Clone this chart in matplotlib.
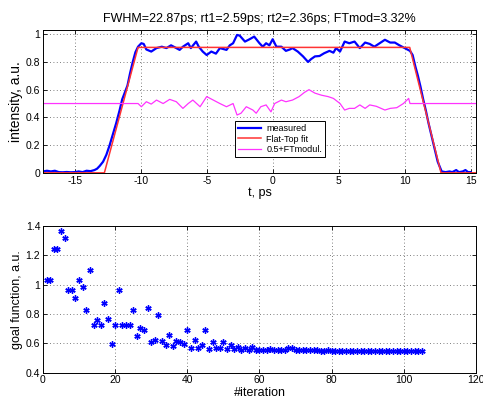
import matplotlib
matplotlib.use("Agg")
import matplotlib.pyplot as plt

plt.rcParams['font.family'] = ['Liberation Sans', 'DejaVu Sans']
plt.rcParams['axes.unicode_minus'] = False

# ---- top panel data ----
t_meas = [-17.4, -17.1, -16.8, -16.5, -16.2, -15.9, -15.6, -15.3, -15.0, -14.7, -14.4, -14.1,
          -13.8, -13.5, -13.3, -13.1, -12.85, -12.6, -12.35, -12.1, -11.85, -11.6, -11.4,
          -11.2, -11.0, -10.8, -10.6, -10.4, -10.2, -9.95, -9.77, -9.57, -9.2, -8.8, -8.4,
          -8.05, -7.7, -7.4, -7.05, -6.8, -6.4, -6.2, -5.8, -5.6, -5.3, -5.0, -4.65, -4.3,
          -4.0, -3.5, -3.25, -3.0, -2.7, -2.5, -2.1, -1.75, -1.4, -1.0, -0.75, -0.5, -0.25,
          0.0, 0.28, 0.66, 1.0, 1.3, 1.5, 1.9, 2.3, 2.68, 2.9, 3.2, 3.55, 3.9, 4.3, 4.6,
          4.8, 5.1, 5.45, 5.8, 6.2, 6.6, 7.0, 7.35, 7.7, 8.1, 8.5, 8.9, 9.25, 9.6, 10.0,
          10.4, 10.6, 10.8, 11.0, 11.2, 11.4, 11.6, 11.8, 12.0, 12.2, 12.5, 12.8, 13.1,
          13.4, 13.6, 13.9, 14.1, 14.4, 14.6, 14.8, 15.0]
i_meas = [0.01, 0.015, 0.01, 0.015, 0.005, 0.004, 0.006, 0.004, 0.005, 0.01, 0.005, 0.015,
          0.012, 0.02, 0.03, 0.05, 0.08, 0.13, 0.2, 0.28, 0.36, 0.45, 0.53,
          0.58, 0.63, 0.72, 0.80, 0.87, 0.91, 0.935, 0.93, 0.89, 0.875, 0.90, 0.91,
          0.90, 0.92, 0.905, 0.887, 0.91, 0.935, 0.90, 0.947, 0.91, 0.875, 0.85, 0.875, 0.86,
          0.90, 0.887, 0.92, 0.935, 0.995, 0.99, 0.947, 0.964, 0.983, 0.935, 0.91, 0.935, 0.92,
          0.964, 0.91, 0.91, 0.88, 0.89, 0.90, 0.875, 0.84, 0.80, 0.82, 0.84, 0.843, 0.863, 0.88, 0.867,
          0.90, 0.875, 0.947, 0.935, 0.947, 0.90, 0.94, 0.93, 0.91, 0.935, 0.96, 0.94, 0.94, 0.92, 0.90,
          0.88, 0.85, 0.77, 0.70, 0.62, 0.53, 0.45, 0.36, 0.28, 0.2, 0.08, 0.01, 0.005,
          0.01, 0.005, 0.02, 0.005, 0.01, 0.02, 0.005, 0.005]

t_fit = [-17.4, -12.75, -10.2, 10.38, 12.75, 15.4]
i_fit = [0.0, 0.0, 0.905, 0.905, 0.0, 0.0]

t_mod = [-17.4, -10.2, -9.95, -9.57, -9.2, -8.8, -8.3, -7.8, -7.3, -6.8, -6.4, -6.05, -5.5,
         -5.0, -4.5, -4.0, -3.5, -3.0, -2.7, -2.4, -2.0, -1.5, -1.25, -0.9, -0.5, -0.13,
         0.15, 0.66, 1.0, 1.5, 2.0, 2.4, 2.75, 3.2, 3.7, 4.2, 4.6, 5.1, 5.45, 5.8, 6.2,
         6.6, 7.0, 7.35, 7.85, 8.5, 8.9, 9.4, 9.9, 10.3, 10.4, 15.4]
i_mod = [0.5, 0.5, 0.477, 0.513, 0.496, 0.525, 0.50, 0.53, 0.513, 0.465, 0.50, 0.525, 0.477,
         0.55, 0.525, 0.50, 0.477, 0.50, 0.417, 0.43, 0.477, 0.453, 0.43, 0.477, 0.49, 0.44,
         0.50, 0.525, 0.513, 0.525, 0.55, 0.58, 0.60, 0.575, 0.56, 0.55, 0.537, 0.50, 0.453, 0.465, 0.465,
         0.49, 0.465, 0.49, 0.48, 0.453, 0.465, 0.47, 0.50, 0.537, 0.5, 0.5]

title_text = "FWHM=22.87ps; rt1=2.59ps; rt2=2.36ps; FTmod=3.32%"
legend_labels = ["measured", "Flat-Top fit", "0.5+FTmodul."]

# ---- bottom panel data ----
iteration = list(range(1, 106))
goal = [1.03, 1.03, 1.246, 1.246, 1.368, 1.319, 0.962, 0.962, 0.911, 1.031,
        0.985, 0.826, 1.103, 0.727, 0.757, 0.727, 0.872, 0.769, 0.594, 0.723,
        0.962, 0.723, 0.723, 0.723, 0.826, 0.647, 0.704, 0.693, 0.842, 0.612,
        0.623, 0.796, 0.617, 0.589, 0.658, 0.582, 0.617, 0.607, 0.594, 0.693,
        0.566, 0.623, 0.566, 0.589, 0.693, 0.559, 0.612, 0.566, 0.568, 0.612,
        0.561, 0.589, 0.561, 0.573, 0.554, 0.566, 0.552, 0.577, 0.557, 0.557,
        0.557, 0.557, 0.561, 0.554, 0.557, 0.554, 0.552, 0.566, 0.571, 0.552,
        0.554, 0.552, 0.554, 0.552, 0.552, 0.552, 0.551, 0.551, 0.554, 0.551,
        0.551, 0.551, 0.55, 0.55, 0.55, 0.55, 0.55, 0.549, 0.549, 0.549,
        0.549, 0.549, 0.548, 0.548, 0.548, 0.548, 0.548, 0.548, 0.547, 0.547,
        0.547, 0.547, 0.547, 0.547, 0.547]

fig = plt.figure(figsize=(4.83, 4.01), dpi=100)
ax1 = fig.add_axes([0.089, 0.569, 0.8965, 0.356])
ax2 = fig.add_axes([0.089, 0.0706, 0.8965, 0.3658])

for ax in (ax1, ax2):
    ax.grid(True, linestyle=(0, (1, 3)), color='#555555', linewidth=0.6)
    ax.tick_params(direction='in', top=True, right=True, labelsize=7.5, length=3, width=0.6, pad=2)
    for s in ax.spines.values():
        s.set_linewidth(0.7)

ax1.plot(t_meas, i_meas, color='#0000ff', lw=1.6, label=legend_labels[0])
ax1.plot(t_fit, i_fit, color='#ff3333', lw=1.1, label=legend_labels[1])
ax1.plot(t_mod, i_mod, color='#ff33ff', lw=0.9, label=legend_labels[2])
ax1.set_xlim(-17.4, 15.4)
ax1.set_ylim(0, 1.03)
ax1.set_xticks([-15, -10, -5, 0, 5, 10, 15])
ax1.set_yticks([0, 0.2, 0.4, 0.6, 0.8, 1.0])
ax1.set_yticklabels(['0', '0.2', '0.4', '0.6', '0.8', '1'])
ax1.set_xlabel('t, ps', fontsize=9, labelpad=1)
ax1.set_ylabel('intensity, a.u.', fontsize=10, labelpad=2)
ax1.set_title(title_text, fontsize=9, pad=6)
leg = ax1.legend(loc='lower left', bbox_to_anchor=(0.443, 0.11), fontsize=6.5, frameon=True,
                 fancybox=False, edgecolor='black', framealpha=1, borderpad=0.3,
                 handlelength=2.6, labelspacing=0.2, handletextpad=0.6, borderaxespad=0)
leg.get_frame().set_linewidth(0.7)

ax2.plot(iteration, goal, linestyle='none', marker=(6, 2, 0), markersize=4.5,
         markeredgewidth=1.0, color='#0000ff')
ax2.set_xlim(0, 120)
ax2.set_ylim(0.4, 1.4)
ax2.set_xticks([0, 20, 40, 60, 80, 100, 120])
ax2.set_yticks([0.4, 0.6, 0.8, 1.0, 1.2, 1.4])
ax2.set_yticklabels(['0.4', '0.6', '0.8', '1', '1.2', '1.4'])
ax2.set_xlabel('#iteration', fontsize=9, labelpad=1)
ax2.set_ylabel('goal function, a.u.', fontsize=9, labelpad=2)

fig.savefig('out.png', dpi=100)
